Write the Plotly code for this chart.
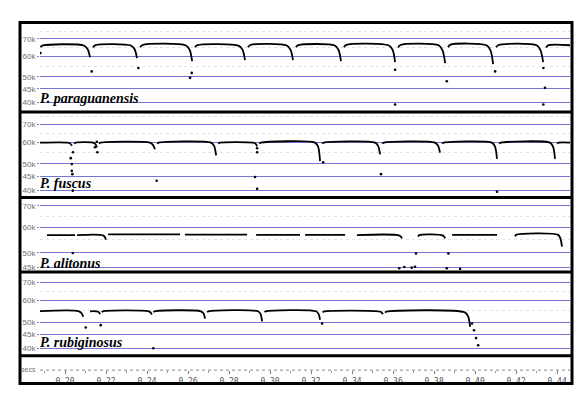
import plotly.graph_objects as go

W, H = 576, 395

# ---------------- data (time in s, frequency in kHz) ----------------
species = ["P. paraguanensis", "P. fuscus", "P. alitonus", "P. rubiginosus"]
freq_ticks = [40, 45, 50, 60, 70]
freq_tick_text = ["40k", "45k", "50k", "60k", "70k"]
time_ticks = [0.20, 0.22, 0.24, 0.26, 0.28, 0.30, 0.32, 0.34, 0.36, 0.38, 0.40, 0.42, 0.44]
time_tick_text = ["0.20", "0.22", "0.24", "0.26", "0.28", "0.30", "0.32",
                  "0.34", "0.36", "0.38", "0.40", "0.42", "0.44"]

# P. paraguanensis calls
p1_t = [
    [0.1880, 0.1892, 0.2092, 0.2110, 0.2122],
    [0.2136, 0.2148, 0.2321, 0.2339, 0.2351],
    [0.2366, 0.2378, 0.2590, 0.2608, 0.2620],
    [0.2634, 0.2646, 0.2848, 0.2866, 0.2878],
    [0.2892, 0.2904, 0.3082, 0.3100, 0.3112],
    [0.3126, 0.3138, 0.3316, 0.3334, 0.3346],
    [0.3360, 0.3372, 0.3580, 0.3598, 0.3610],
    [0.3624, 0.3636, 0.3824, 0.3842, 0.3854],
    [0.3868, 0.3880, 0.4058, 0.4076, 0.4088],
    [0.4102, 0.4114, 0.4302, 0.4320, 0.4332],
    [0.4346, 0.4358, 0.4480],
]
p1_f = [
    [65.0, 66.0, 66.0, 64.0, 59.5],
    [64.8, 66.2, 66.0, 64.0, 59.0],
    [65.0, 66.3, 66.0, 63.5, 57.5],
    [65.0, 66.2, 65.8, 63.5, 58.0],
    [65.0, 66.3, 66.0, 63.5, 58.0],
    [65.0, 66.2, 66.0, 63.5, 57.5],
    [65.0, 66.4, 66.0, 63.5, 57.0],
    [64.8, 66.3, 66.0, 63.0, 56.5],
    [65.0, 66.5, 66.0, 63.0, 56.0],
    [65.0, 66.3, 66.0, 63.0, 57.0],
    [64.8, 66.2, 66.0],
]
p1_dot_t = [0.1880, 0.2130, 0.2358, 0.2618, 0.2610, 0.3610, 0.3862, 0.4098, 0.4333, 0.4341, 0.4333, 0.3610]
p1_dot_f = [61.7, 52.5, 54.1, 51.8, 49.6, 53.3, 48.1, 52.5, 54.1, 45.4, 39.2, 39.2]

# P. fuscus calls
p2_t = [
    [0.1878, 0.2012, 0.2026, 0.2034],
    [0.2044, 0.2052, 0.2136, 0.2148, 0.2156],
    [0.2166, 0.2174, 0.2414, 0.2429, 0.2439],
    [0.2449, 0.2457, 0.2712, 0.2727, 0.2737],
    [0.2747, 0.2755, 0.2917, 0.2929, 0.2937],
    [0.2947, 0.2955, 0.3219, 0.3234, 0.3244],
    [0.3254, 0.3262, 0.3512, 0.3527, 0.3537],
    [0.3547, 0.3555, 0.3804, 0.3819, 0.3829],
    [0.3839, 0.3847, 0.4082, 0.4097, 0.4107],
    [0.4117, 0.4125, 0.4365, 0.4380, 0.4390],
    [0.4400, 0.4408, 0.4470],
]
p2_f = [
    [59.9, 59.9, 59.4, 58.3],
    [59.4, 59.9, 59.9, 59.2, 57.5],
    [59.4, 59.9, 59.9, 58.8, 56.6],
    [59.4, 59.9, 59.9, 58.3, 53.8],
    [59.4, 59.9, 59.9, 59.4, 58.0],
    [59.4, 59.9, 59.9, 58.0, 51.2],
    [59.4, 59.9, 59.9, 58.3, 54.2],
    [59.4, 59.9, 59.9, 58.5, 55.0],
    [59.4, 59.9, 59.9, 58.0, 52.2],
    [59.4, 59.9, 59.9, 58.0, 52.2],
    [59.4, 59.9, 59.9],
]
p2_dot_t = [0.2039, 0.2028, 0.2033, 0.2033, 0.2036, 0.2038, 0.2155, 0.2146, 0.2158,
            0.2447, 0.2937, 0.2937, 0.2927, 0.2937, 0.3259, 0.3541, 0.4107]
p2_dot_f = [55.2, 52.5, 49.9, 47.1, 45.8, 39.8, 60.4, 57.6, 55.2,
            43.3, 57.1, 55.2, 44.7, 40.4, 50.7, 45.8, 39.4]

# P. alitonus calls
p3_t = [
    [0.1912, 0.2049],
    [0.2059, 0.2188, 0.2200],
    [0.2210, 0.2561],
    [0.2585, 0.2888],
    [0.2932, 0.3146],
    [0.3171, 0.3366],
    [0.3424, 0.3632, 0.3644],
    [0.3722, 0.3728, 0.3844, 0.3854],
    [0.3888, 0.4107],
    [0.4195, 0.4200, 0.4405, 0.4416, 0.4424],
]
p3_f = [
    [56.8, 56.8],
    [56.8, 56.6, 55.0],
    [57.1, 57.1],
    [57.0, 57.0],
    [56.9, 56.9],
    [56.9, 56.9],
    [56.8, 56.6, 55.5],
    [56.2, 56.8, 56.6, 55.5],
    [56.9, 56.9],
    [56.3, 56.9, 56.9, 55.5, 52.3],
]
p3_dot_t = [0.2038, 0.3712, 0.3870, 0.3691, 0.3707, 0.3862, 0.3927, 0.3630, 0.3655]
p3_dot_f = [50.0, 49.8, 49.8, 45.0, 45.3, 44.8, 44.6, 44.8, 45.2]

# P. rubiginosus calls
p4_t = [
    [0.1878, 0.2065, 0.2080, 0.2089],
    [0.2122, 0.2163, 0.2171],
    [0.2179, 0.2185, 0.2408, 0.2418, 0.2423],
    [0.2431, 0.2437, 0.2663, 0.2676, 0.2683],
    [0.2693, 0.2699, 0.2941, 0.2954, 0.2961],
    [0.2973, 0.2979, 0.3224, 0.3237, 0.3244],
    [0.3256, 0.3262, 0.3538, 0.3546, 0.3551],
    [0.3561, 0.3567, 0.3950, 0.3966, 0.3976],
]
p4_f = [
    [54.9, 54.9, 54.0, 52.3],
    [54.8, 54.6, 53.5],
    [54.4, 54.8, 54.8, 54.2, 53.3],
    [54.4, 54.8, 54.8, 53.8, 51.5],
    [54.4, 54.8, 54.8, 53.5, 50.3],
    [54.4, 54.8, 54.8, 53.5, 51.0],
    [54.3, 54.7, 54.6, 54.0, 53.5],
    [54.2, 54.6, 54.3, 52.5, 48.0],
]
p4_dot_t = [0.2101, 0.2174, 0.2431, 0.3254, 0.3995, 0.4005, 0.4015, 0.3985]
p4_dot_f = [47.7, 48.7, 40.0, 49.4, 46.6, 43.6, 41.0, 49.4]

panels = [(p1_t, p1_f, p1_dot_t, p1_dot_f),
          (p2_t, p2_f, p2_dot_t, p2_dot_f),
          (p3_t, p3_f, p3_dot_t, p3_dot_f),
          (p4_t, p4_f, p4_dot_t, p4_dot_f)]

# ---------------- layout helpers (pixel -> paper) ----------------
def px(x):
    return x / W

def py(y):
    return 1 - y / H

# panel interiors (pixel rows) and log10(kHz) ranges
panel_rows = [(24, 111), (114, 197), (200, 272), (275, 356)]
panel_ranges = [(1.5704, 1.9024), (1.5800, 1.8856), (1.6439, 1.8668), (1.5800, 1.8782)]
label_bottom = [107.5, 193, 273, 353]

fig = go.Figure()

def flatten(list_t, list_f):
    xs, ys = [], []
    for t, f in zip(list_t, list_f):
        xs += t + [None]
        ys += f + [None]
    return xs, ys

for i, (ct, cf, dt, df) in enumerate(panels):
    yname = "y" if i == 0 else f"y{i+1}"
    xs, ys = flatten(ct, cf)
    fig.add_trace(go.Scatter(x=xs, y=ys, mode="lines", xaxis="x", yaxis=yname,
                             line=dict(color="black", width=1.8, shape="spline", smoothing=0.8),
                             connectgaps=False, hoverinfo="skip", showlegend=False))
    fig.add_trace(go.Scatter(x=dt, y=df, mode="markers", xaxis="x", yaxis=yname,
                             marker=dict(color="black", size=2.6), hoverinfo="skip",
                             showlegend=False))

# empty trace for the time-axis strip
fig.add_trace(go.Scatter(x=[time_ticks[0]], y=[0], mode="markers", xaxis="x", yaxis="y5",
                         marker=dict(opacity=0), hoverinfo="skip", showlegend=False))

grid_col = "#7676d6"
layout = dict(
    width=W, height=H,
    margin=dict(l=0, r=0, t=0, b=0),
    paper_bgcolor="white", plot_bgcolor="white",
    showlegend=False,
    xaxis=dict(domain=[px(40), px(570)], range=[0.1878, 0.4463], anchor="y5",
               showgrid=False, zeroline=False, showline=False,
               tickvals=time_ticks, ticktext=time_tick_text,
               ticks="outside", ticklen=3, tickcolor="#777", tickwidth=1,
               tickfont=dict(family="DejaVu Sans Mono", size=8, color="#555"),
               minor=dict(dtick=0.01, tick0=0.19, ticks="outside", ticklen=2,
                          tickcolor="#999", showgrid=False)),
    yaxis5=dict(domain=[py(372), py(359)], anchor="x", range=[0, 1],
                visible=False, showgrid=False, zeroline=False),
)

for i in range(4):
    key = "yaxis" if i == 0 else f"yaxis{i+1}"
    top, bot = panel_rows[i]
    layout[key] = dict(
        domain=[py(bot), py(top)], anchor="x", type="log",
        range=list(panel_ranges[i]),
        tickvals=freq_ticks, ticktext=freq_tick_text,
        showgrid=True, gridcolor=grid_col, gridwidth=1,
        zeroline=False, showline=False,
        ticks="outside", ticklen=2, tickcolor="#888",
        tickfont=dict(family="Liberation Sans", size=8, color="#707070"),
        minor=dict(tickvals=[55, 65, 75], showgrid=True, gridcolor="#e4e4e4",
                   griddash="dot", gridwidth=1, ticks=""),
    )

fig.update_layout(**layout)

# frame and panel separators
shapes = [dict(type="rect", xref="paper", yref="paper", x0=px(20), x1=px(572),
               y0=py(385.5), y1=py(22.5), line=dict(color="black", width=3))]
for ysep in [112.5, 198.5, 273.5, 357.5]:
    shapes.append(dict(type="line", xref="paper", yref="paper", x0=px(20), x1=px(572),
                       y0=py(ysep), y1=py(ysep), line=dict(color="black", width=3)))
shapes.append(dict(type="line", xref="paper", yref="paper", x0=px(40), x1=px(570),
                   y0=py(372), y1=py(372), line=dict(color="#888", width=1, dash="dot")))
fig.update_layout(shapes=shapes)

annotations = []
for i, name in enumerate(species):
    annotations.append(dict(text=f"<b><i>{name}</i></b>", xref="paper", yref="paper",
                            x=px(39), y=py(label_bottom[i]), xanchor="left", yanchor="bottom",
                            showarrow=False, borderpad=0,
                            font=dict(family="Liberation Serif", size=14, color="black")))
annotations.append(dict(text="secs", xref="paper", yref="paper", x=px(38), y=py(371.5),
                        xanchor="right", yanchor="middle", showarrow=False,
                        font=dict(family="Liberation Sans", size=7, color="#707070")))
fig.update_layout(annotations=annotations)

fig.write_html("out.html",
               config=dict(displayModeBar=False, staticPlot=True),
               post_script="document.body.style.margin='0';"
                           "document.body.style.overflow='hidden';")
